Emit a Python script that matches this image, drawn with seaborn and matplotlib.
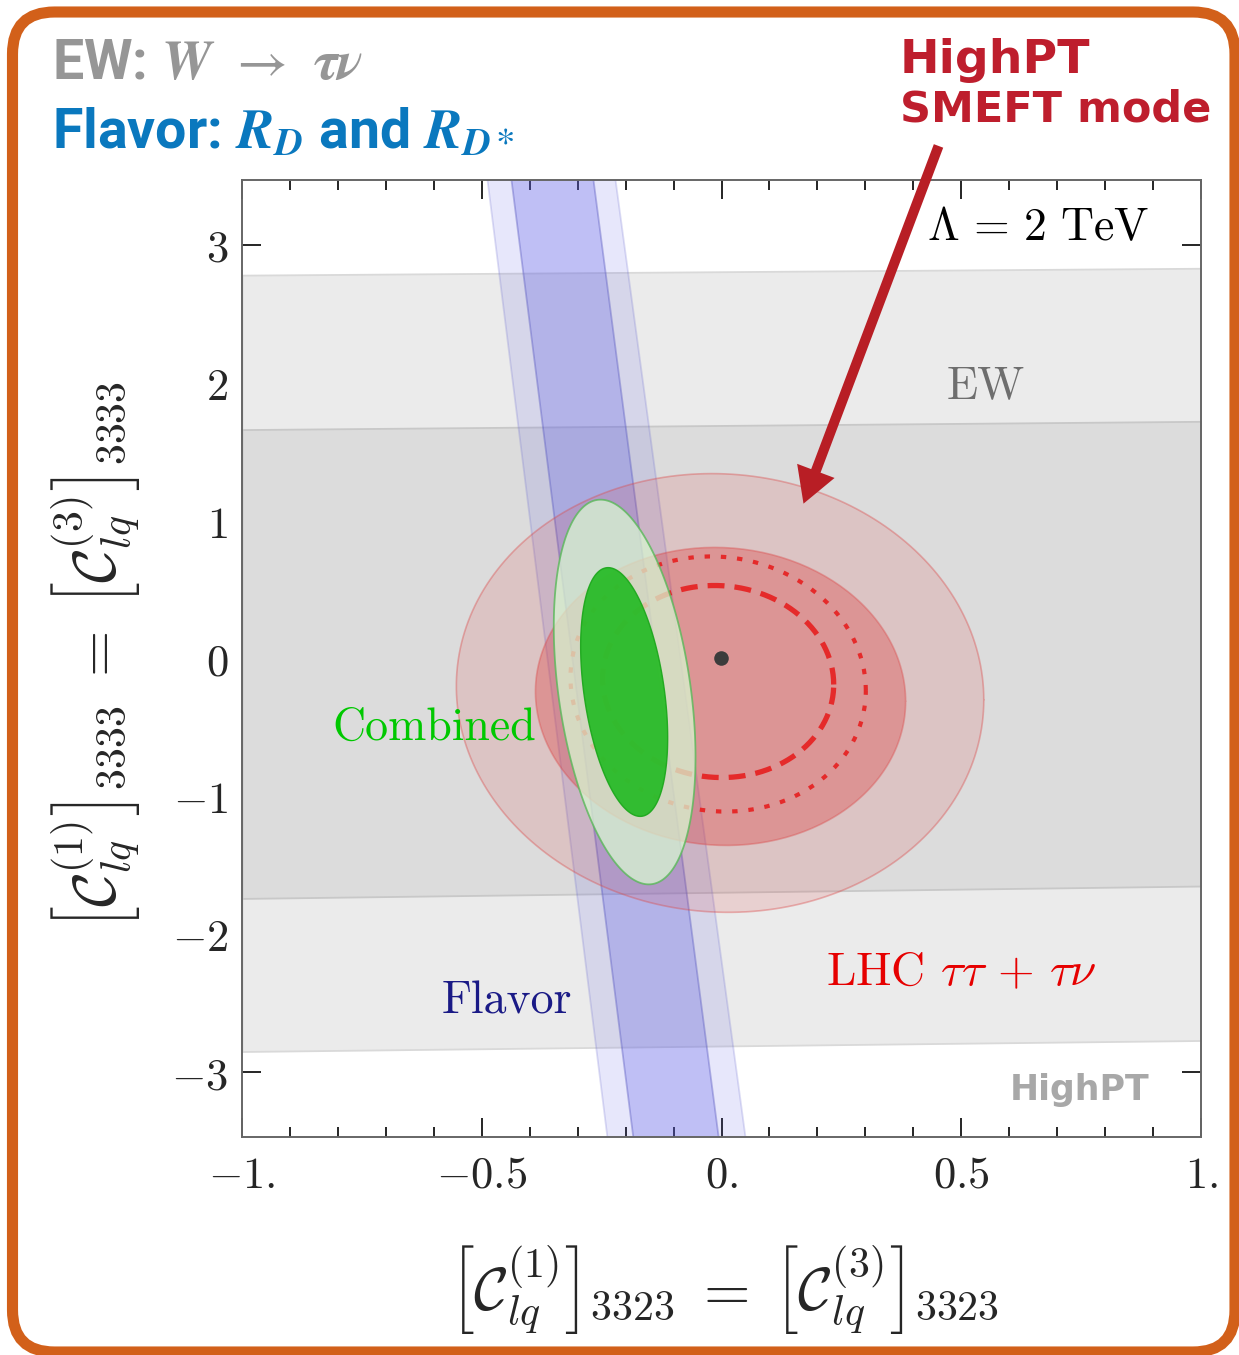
import numpy as np
import pandas as pd
import matplotlib
matplotlib.use("Agg")
import matplotlib.pyplot as plt
from matplotlib.patches import FancyBboxPatch
from matplotlib.transforms import IdentityTransform
from matplotlib.ticker import FixedLocator, FixedFormatter, MultipleLocator
import seaborn as sns

# ---------------- data ----------------
# EW (W -> tau nu) allowed bands, edges given at x = -1 and x = 1
ew_x = [-1.0, 1.0]
ew_outer_lo = [-2.85, -2.77]
ew_outer_hi = [2.78, 2.83]
ew_inner_lo = [-1.74, -1.65]
ew_inner_hi = [1.66, 1.72]

# Flavor (R_D, R_D*) bands, edge x positions at the top and bottom of the frame
flavor_y = [3.47, -3.47]
flavor_outer_left = [-0.488, -0.238]
flavor_outer_right = [-0.221, 0.050]
flavor_inner_left = [-0.438, -0.184]
flavor_inner_right = [-0.267, -0.006]

# Contours: centre x, centre y, half-width, half-height, x-shear, y-shear
lhc_outer = [-0.003, -0.25, 0.550, 1.59, 0.0, -0.09]
lhc_inner = [-0.002, -0.275, 0.386, 1.08, 0.0, -0.09]
lhc_dotted = [-0.007, -0.185, 0.308, 0.924, 0.0, -0.15]
lhc_dashed = [-0.007, -0.167, 0.241, 0.696, 0.0, -0.09]
comb_outer = [-0.202, -0.243, 0.139, 1.395, -0.036, 0.0]
comb_inner = [-0.203, -0.243, 0.0844, 0.902, -0.037, 0.0]

sm_point = pd.DataFrame({"x": [0.0], "y": [0.0]})

x_ticks = [-1.0, -0.5, 0.0, 0.5, 1.0]
x_tick_labels = ["$-1.$", "$-0.5$", "$0.$", "$0.5$", "$1.$"]
y_ticks = [-3, -2, -1, 0, 1, 2, 3]
y_tick_labels = ["$-3$", "$-2$", "$-1$", "$0$", "$1$", "$2$", "$3$"]


def contour_frame(p, n=240):
    cx, cy, a, b, kx, my = p
    t = np.linspace(0.0, 2.0 * np.pi, n)
    x = cx + a * np.cos(t) + kx * b * np.sin(t)
    y = cy + b * np.sin(t) + my * a * np.cos(t)
    return pd.DataFrame({"x": x, "y": y, "order": np.arange(n)})


# ---------------- style ----------------
sns.set_style("ticks")
plt.rcParams["mathtext.fontset"] = "cm"
plt.rcParams["font.family"] = ["DejaVu Sans"]

W, H = 1239, 1355
fig = plt.figure(figsize=(W / 100, H / 100), dpi=100)
fig.patch.set_facecolor("white")
ax = fig.add_axes([242 / W, 1 - 1137 / H, (1201 - 242) / W, (1137 - 180) / H])
ax.set_facecolor("white")
ax.set_xlim(-1, 1)
ax.set_ylim(-3.47, 3.47)

# EW bands
ax.fill_between(ew_x, ew_outer_lo, ew_outer_hi, color="#ebebeb",
                edgecolor="#d9d9d9", lw=1.3, zorder=1)
ax.fill_between(ew_x, ew_inner_lo, ew_inner_hi, color="#dcdcdc",
                edgecolor="#c8c8c8", lw=1.3, zorder=2)

# Flavor bands
blue = "#5a5ae6"
for left, right, alpha, ecol, z in [
        (flavor_outer_left, flavor_outer_right, 0.14, (0.4, 0.4, 0.8, 0.22), 3),
        (flavor_inner_left, flavor_inner_right, 0.28, (0.35, 0.35, 0.75, 0.4), 4)]:
    xs = [left[0], right[0], right[1], left[1]]
    ys = [flavor_y[0], flavor_y[0], flavor_y[1], flavor_y[1]]
    ax.fill(xs, ys, color=blue, alpha=alpha, lw=0, zorder=z)
    for edge in (left, right):
        ax.plot(edge, flavor_y, color=ecol, lw=1.3, zorder=z)

# LHC tau tau + tau nu regions
red = "#dc3c3c"
for p, alpha, z in [(lhc_outer, 0.15, 5), (lhc_inner, 0.34, 6)]:
    d = contour_frame(p)
    ax.fill(d["x"], d["y"], color=red, alpha=alpha, lw=0, zorder=z)
    ax.plot(d["x"], d["y"], color=(0.86, 0.3, 0.3, 0.4), lw=1.2, zorder=z)

# projected contours
d = contour_frame(lhc_dotted)
sns.lineplot(data=d, x="x", y="y", sort=False, estimator=None, ax=ax,
             color="#e52a2a", lw=3.0, linestyle=(0, (1.3, 2.6)), zorder=7)
d = contour_frame(lhc_dashed)
sns.lineplot(data=d, x="x", y="y", sort=False, estimator=None, ax=ax,
             color="#e52a2a", lw=3.8, linestyle=(0, (3.2, 1.9)), zorder=7)

# Combined fit
d = contour_frame(comb_outer)
ax.fill(d["x"], d["y"], facecolor=(0.85, 0.97, 0.82, 0.74),
        edgecolor=(0.35, 0.72, 0.35, 0.8), lw=1.3, zorder=8)
d = contour_frame(comb_inner)
ax.fill(d["x"], d["y"], facecolor=(0.13, 0.73, 0.13, 0.9),
        edgecolor=(0.1, 0.65, 0.1, 0.9), lw=1.0, zorder=9)

# SM point
sns.scatterplot(data=sm_point, x="x", y="y", ax=ax, color="#3c3c3c",
                s=110, edgecolor="none", zorder=10, legend=False)

# axes, ticks
ax.set_xlabel("")
ax.set_ylabel("")
ax.xaxis.set_major_locator(FixedLocator(x_ticks))
ax.xaxis.set_major_formatter(FixedFormatter(x_tick_labels))
ax.yaxis.set_major_locator(FixedLocator(y_ticks))
ax.yaxis.set_major_formatter(FixedFormatter(y_tick_labels))
ax.xaxis.set_minor_locator(MultipleLocator(0.1))
ax.yaxis.set_minor_locator(MultipleLocator(0.5))
ax.tick_params(which="both", direction="in", top=True, right=True,
               color="black", width=1.2)
ax.tick_params(which="major", length=13.5)
ax.tick_params(which="minor", length=7)
ax.tick_params(axis="x", which="major", labelsize=32, pad=12)
ax.tick_params(axis="y", which="major", labelsize=32, pad=10)
for s in ax.spines.values():
    s.set_color("#666666")
    s.set_linewidth(1.4)
    s.set_zorder(20)

# in-plot labels
ax.text(0.551, 1.891, "EW", fontfamily="cmr10", fontsize=33, color="#6e6e6e",
        ha="center", va="baseline", zorder=15)
ax.text(0.661, 3.036, r"$\Lambda\, =\, 2\ \mathrm{TeV}$", fontsize=33, color="black",
        ha="center", va="baseline", zorder=15)
ax.text(-0.6, -0.587, "Combined", fontfamily="cmr10", fontsize=33, color="#00c800",
        ha="center", va="baseline", zorder=15)
ax.text(-0.448, -2.572, "Flavor", fontfamily="cmr10", fontsize=33, color="#1a1a86",
        ha="center", va="baseline", zorder=15)
ax.text(0.5, -2.37, r"LHC $\tau\tau\, +\, \tau\nu$", fontfamily="cmr10", fontsize=34,
        color="#e60000", ha="center", va="baseline", zorder=15)

# arrow pointing at the HighPT contours
ax.annotate("", xy=(0.171, 1.123), xytext=(0.4526, 3.717),
            arrowprops=dict(arrowstyle="simple,head_length=0.84,head_width=0.96,tail_width=0.24",
                            mutation_scale=30, color="#b81e25", lw=0,
                            shrinkA=0, shrinkB=0),
            annotation_clip=False, zorder=25)


def fx(px):
    return px / W


def fy(py):
    return 1 - py / H


# axis titles
fig.text(fx(725), fy(1289),
         r"$\left[\mathcal{C}_{lq}^{(1)}\right]_{3323}\; =\; \left[\mathcal{C}_{lq}^{(3)}\right]_{3323}$",
         fontsize=43, ha="center", va="center")
fig.text(fx(95), fy(655),
         r"$\left[\mathcal{C}_{lq}^{(1)}\right]_{3333}\; =\; \left[\mathcal{C}_{lq}^{(3)}\right]_{3333}$",
         fontsize=43, ha="center", va="center", rotation=90)

# header
fig.text(fx(52), fy(79), r"EW: $\mathbfit{W}\;\, \rightarrow\;\, \mathbfit{\tau\nu}$",
         fontfamily="Roboto", fontweight="bold", fontsize=40, color="#969696",
         math_fontfamily="stix", ha="left", va="baseline")
fig.text(fx(52), fy(149), r"Flavor: $\mathbfit{R}_{\mathbfit{D}}$ and $\mathbfit{R}_{\mathbfit{D}*}$",
         fontfamily="Roboto", fontweight="bold", fontsize=40, color="#0a78be",
         math_fontfamily="stix", ha="left", va="baseline")
fig.text(fx(900), fy(73), "HighPT", fontfamily="DejaVu Sans", fontweight="bold",
         fontsize=34, color="#be1e2d", ha="left", va="baseline")
fig.text(fx(900), fy(122), "SMEFT mode", fontfamily="DejaVu Sans", fontweight="bold",
         fontsize=31, color="#be1e2d", ha="left", va="baseline")

# watermark
fig.text(fx(1010), fy(1100), "HighPT", fontfamily="DejaVu Sans", fontweight="bold",
         fontsize=25, color="#a8a8a8", ha="left", va="baseline", zorder=30)

# rounded frame
frame = FancyBboxPatch((12.5, 3), 1235 - 12.5, 1343 - 3,
                       boxstyle="round,pad=0,rounding_size=42",
                       transform=IdentityTransform(), facecolor="none",
                       edgecolor="#d2601a", lw=8, zorder=0)
fig.add_artist(frame)

fig.savefig("out.png", dpi=100, facecolor="white")
